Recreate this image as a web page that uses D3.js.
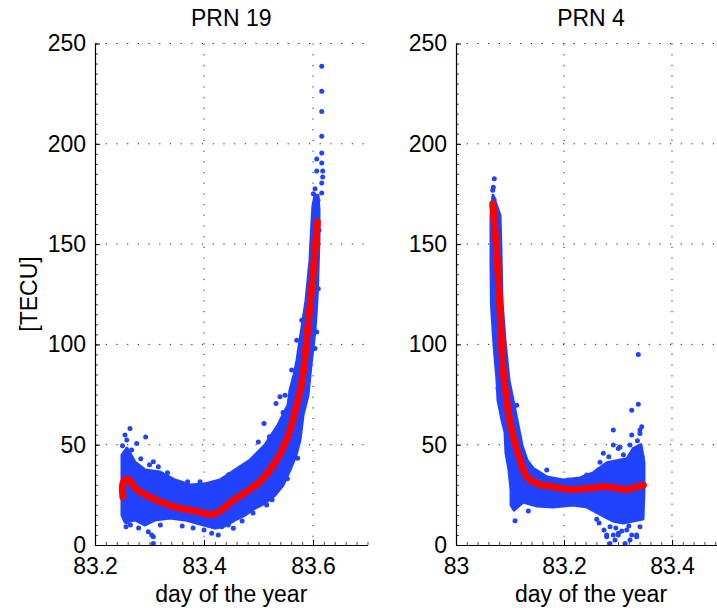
<!DOCTYPE html>
<html>
<head>
  <script src="https://d3js.org/d3.v7.min.js"></script>
  <style>
    html, body {
      margin: 0px;
      padding: 0px;
      background: #fff;
    }
    svg text {
      font-family: "Liberation Sans", Arial, Helvetica, sans-serif;
      font-size: 23px;
      fill: #000;
    }
  </style>
</head>
<body>
  <div id="chart"></div>
  <script>

    // tick values
    const yTicks = [0, 50, 100, 150, 200, 250];
    const prn19XTicks = [83.2, 83.4, 83.6];
    const prn4XTicks = [83, 83.2, 83.4];

    // PRN 19 : smoothed curve (red), [day, TECU]
    const prn19Line = [
      [83.2512, 24], [83.2515, 31], [83.258, 33], [83.262, 32.5], [83.275, 28],
      [83.300, 24], [83.340, 19.5], [83.390, 16.5], [83.415, 15.2], [83.430, 17],
      [83.450, 21.5], [83.500, 31], [83.530, 41], [83.555, 55], [83.570, 70],
      [83.580, 82], [83.590, 107], [83.600, 135], [83.608, 161]
    ];

    // PRN 19 : outline of the dense blue cloud (upper and lower edge)
    const prn19CloudTop = [
      [83.2495, 44.8], [83.2587, 48.3], [83.2734, 41.3], [83.2917, 37.4], [83.3193, 36.4],
      [83.3468, 32.4], [83.3743, 29.9], [83.4018, 30.4], [83.4294, 32.4], [83.4569, 37.4],
      [83.4844, 42.3], [83.5119, 49.8], [83.5358, 59.8], [83.5541, 69.7], [83.5578, 77.2],
      [83.5651, 84.7], [83.5706, 92.1], [83.5761, 102.1], [83.5817, 112], [83.5872, 122],
      [83.5908, 132], [83.5945, 142], [83.5963, 152], [83.5982, 162], [83.6, 169.3],
      [83.6037, 174.3]
    ];
    const prn19CloudBottom = [
      [83.2495, 14.9], [83.255, 11.5], [83.2734, 12.5], [83.2917, 10], [83.3101, 12.5],
      [83.3376, 13.4], [83.3651, 12.5], [83.3927, 10.5], [83.4202, 8.5], [83.4385, 9.5],
      [83.4569, 12.5], [83.4752, 14.9], [83.4936, 18.4], [83.5119, 20.9], [83.5303, 24.9],
      [83.545, 29.9], [83.5578, 37.4], [83.5688, 44.8], [83.5761, 52.3], [83.5817, 64.7],
      [83.5908, 74.7], [83.5963, 89.6], [83.6037, 107.1], [83.6073, 122], [83.6092, 137],
      [83.611, 151.9], [83.611, 166.8], [83.6092, 174.3]
    ];

    // PRN 19 : scattered single samples outside the dense cloud
    const prn19Dots = [
      [83.2642, 58.1], [83.255, 54.8], [83.2582, 52.3], [83.293, 53.9], [83.2765, 50.6],
      [83.2673, 47.3], [83.307, 41.5], [83.3162, 39], [83.255, 14.9], [83.2569, 9.1],
      [83.2582, 11.6], [83.307, 4.1], [83.2978, 6.6], [83.307, 0.8], [83.304, 5],
      [83.3927, 31.5], [83.4202, 30.7], [83.4294, 31.5], [83.4349, 29], [83.4538, 8.3],
      [83.4446, 10], [83.4262, 5], [83.4141, 5.8], [83.4325, 9.1], [83.515, 19.9],
      [83.5334, 29.9], [83.5719, 43.2], [83.5321, 70.6], [83.5486, 74.7], [83.5101, 60.6],
      [83.4996, 51.4], [83.4783, 39.8], [83.4538, 32.4], [83.4996, 22.4], [83.5394, 73.9],
      [83.5609, 87.2], [83.6097, 127.8], [83.6068, 106.2], [83.6037, 98], [83.5701, 102.1],
      [83.5793, 112], [83.6068, 132], [83.616, 238.7], [83.616, 226.2], [83.616, 216.1],
      [83.616, 203.8], [83.616, 195.4], [83.6068, 192.4], [83.616, 190.4], [83.6068, 186.4],
      [83.6178, 186.4], [83.6178, 183.4], [83.616, 180.4], [83.6037, 177.6], [83.616, 175.5],
      [83.6006, 175.1], [83.6092, 171.8], [83.6073, 166.8], [83.611, 156.9],
      [83.2505, 49.5], [83.262, 44], [83.284, 43], [83.30, 40], [83.333, 36],
      [83.28, 8.5], [83.265, 10], [83.32, 10], [83.36, 9.5], [83.38, 8.5],
      [83.40, 7.5], [83.41, 29], [83.37, 31.5], [83.445, 35], [83.47, 12],
      [83.49, 16], [83.52, 54], [83.545, 66], [83.525, 22.5], [83.553, 33]
    ];

    // PRN 4 : smoothed curve (red)
    const prn4Line = [
      [83.068, 170], [83.075, 147], [83.080, 125], [83.0876, 86], [83.094, 72],
      [83.097, 65.6], [83.106, 54], [83.1185, 42.3], [83.131, 34], [83.149, 30.7],
      [83.180, 29], [83.211, 27.7], [83.242, 28.2], [83.273, 29], [83.291, 28.7],
      [83.316, 27.7], [83.335, 29], [83.347, 29.9]
    ];

    // PRN 4 : outline of the dense blue cloud
    const prn4CloudTop = [
      [83.0685, 174.3], [83.0815, 164.3], [83.0833, 146.9], [83.0852, 122], [83.0907, 102.1],
      [83.0981, 82.2], [83.1037, 74.7], [83.113, 62.3], [83.1222, 49.8], [83.1315, 42.3],
      [83.1426, 38.3], [83.1685, 33.9], [83.1981, 32.4], [83.2296, 33.4], [83.2537, 35.9],
      [83.2796, 41], [83.2981, 42], [83.3167, 43], [83.3278, 48], [83.3426, 50],
      [83.3481, 40.8], [83.3481, 27.4]
    ];
    const prn4CloudBottom = [
      [83.0685, 174.3], [83.0648, 164.3], [83.0648, 139.4], [83.0657, 119.5], [83.0704, 99.6],
      [83.0759, 82.2], [83.0778, 72.2], [83.0852, 62.3], [83.0907, 56.3], [83.0926, 45.8],
      [83.0981, 37.4], [83.1019, 27.4], [83.1019, 19.9], [83.1074, 17.4], [83.1241, 21.4],
      [83.15, 19.4], [83.1796, 18.9], [83.2167, 19.9], [83.2426, 18.9], [83.2667, 15.4],
      [83.2796, 13.5], [83.2907, 12], [83.3093, 11], [83.3278, 12], [83.3463, 13],
      [83.3481, 27.4]
    ];

    // PRN 4 : scattered single samples
    const prn4Dots = [
      [83.0709, 182.6], [83.0691, 178.4], [83.068, 176.8], [83.0704, 172.2], [83.3376, 95],
      [83.3254, 67.2], [83.3376, 70.2], [83.2913, 57.3], [83.3439, 58.9], [83.1093, 12.1],
      [83.2852, 0.8], [83.313, 0.8], [83.3006, 5], [83.2791, 5], [83.3346, 5],
      [83.2606, 12.8], [83.1339, 16.9], [83.168, 37.4], [83.1124, 69.7], [83.1061, 19.4],
      [83.2667, 41.3], [83.3037, 48.8], [83.3222, 49.8], [83.3407, 57.3], [83.2944, 2.5],
      [83.3222, 2.5], [83.274, 7.5], [83.0778, 78.2], [83.087, 70.7],
      [83.3407, 55.6], [83.3254, 54.8], [83.2913, 49.8], [83.3006, 48.1], [83.2728, 45.7],
      [83.2635, 37.4], [83.242, 34.9], [83.208, 32.4], [83.3346, 47.3], [83.2852, 9.1],
      [83.3006, 5.8], [83.2913, 5], [83.3254, 5], [83.3346, 4.1], [83.3407, 9.1],
      [83.2791, 4.1], [83.3161, 7.5], [83.31, 45], [83.283, 44], [83.336, 52],
      [83.345, 44], [83.296, 8.5], [83.32, 9.5], [83.307, 7], [83.265, 11]
    ];

    const width = 717;
    const height = 611;
    const plotTop = 43.5, plotBottom = 545;
    const blue = "#2143ff";
    const red = "#ff0000";

    const svg = d3.select("#chart")
      .append("svg")
      .attr("width", width)
      .attr("height", height);

    const yScale = d3.scaleLinear()
      .domain([0, 250])
      .range([plotBottom, plotTop]);

    function drawPanel(opts) {
      const xScale = d3.scaleLinear()
        .domain(opts.domain)
        .range(opts.range);
      const g = svg.append("g");

      // dotted grid
      g.selectAll(".gy")
        .data(yTicks.filter(d => d > 0))
        .join("line")
          .attr("x1", opts.range[0]).attr("x2", opts.range[1])
          .attr("y1", d => yScale(d)).attr("y2", d => yScale(d))
          .attr("stroke", "#222").attr("stroke-width", 1)
          .attr("stroke-dasharray", "1.2,9.5");
      g.selectAll(".gx")
        .data(opts.xTicks.filter(d => d > opts.domain[0]))
        .join("line")
          .attr("x1", d => xScale(d)).attr("x2", d => xScale(d))
          .attr("y1", plotTop).attr("y2", plotBottom)
          .attr("stroke", "#222").attr("stroke-width", 1)
          .attr("stroke-dasharray", "1.2,9.5");

      // dense cloud of samples
      const outline = opts.cloudTop.concat(opts.cloudBottom.slice().reverse());
      const cloud = d3.line()
        .x(d => xScale(d[0]))
        .y(d => yScale(d[1]))
        .curve(d3.curveLinearClosed);
      g.append("path")
        .attr("d", cloud(outline))
        .attr("fill", blue)
        .attr("stroke", blue)
        .attr("stroke-width", 3)
        .attr("stroke-linejoin", "round");

      g.selectAll(".dot")
        .data(opts.dots)
        .join("circle")
          .attr("cx", d => xScale(d[0]))
          .attr("cy", d => yScale(d[1]))
          .attr("r", 2.5)
          .attr("fill", blue);

      // smoothed curve
      const line = d3.line()
        .x(d => xScale(d[0]))
        .y(d => yScale(d[1]))
        .curve(d3.curveCatmullRom.alpha(0.5));
      g.append("path")
        .attr("d", line(opts.line))
        .attr("fill", "none")
        .attr("stroke", red)
        .attr("stroke-width", 7)
        .attr("stroke-linecap", "round")
        .attr("stroke-linejoin", "round");

      // minor ticks
      g.append("g")
        .attr("transform", `translate(${opts.range[0]},0)`)
        .call(d3.axisLeft(yScale).tickValues(d3.range(0, 251, 5))
          .tickSizeInner(-3).tickSizeOuter(0).tickFormat(""))
        .call(a => a.select(".domain").remove())
        .call(a => a.selectAll("line").attr("stroke", "#444"));
      const step = 0.02;
      const xm = d3.range(0, Math.round((opts.domain[1] - opts.domain[0]) / step) + 1)
        .map(i => opts.domain[0] + i * step);
      g.append("g")
        .attr("transform", `translate(0,${plotBottom})`)
        .call(d3.axisBottom(xScale).tickValues(xm)
          .tickSizeInner(-3).tickSizeOuter(0).tickFormat(""))
        .call(a => a.select(".domain").remove())
        .call(a => a.selectAll("line").attr("stroke", "#444"));

      // axes
      const yAxis = g.append("g")
        .attr("transform", `translate(${opts.range[0]},0)`)
        .call(d3.axisLeft(yScale).tickValues(yTicks)
          .tickSizeInner(-5).tickSizeOuter(0).tickPadding(9));
      const xAxis = g.append("g")
        .attr("transform", `translate(0,${plotBottom})`)
        .call(d3.axisBottom(xScale).tickValues(opts.xTicks)
          .tickSizeInner(-5).tickSizeOuter(0).tickPadding(13)
          .tickFormat(d3.format("")));
      [yAxis, xAxis].forEach(a => {
        a.attr("font-size", null).attr("font-family", null);
        a.select(".domain").attr("stroke", "#000").attr("stroke-width", 1.2);
        a.selectAll("text").attr("fill", "#000");
      });

      // title and x label
      const mid = (opts.range[0] + opts.range[1]) / 2;
      g.append("text")
        .attr("x", mid).attr("y", 26)
        .attr("text-anchor", "middle")
        .text(opts.title);
      g.append("text")
        .attr("x", mid).attr("y", 602)
        .attr("text-anchor", "middle")
        .text("day of the year");
    }

    drawPanel({
      title: "PRN 19",
      domain: [83.2, 83.7],
      range: [95, 367.5],
      xTicks: prn19XTicks,
      line: prn19Line,
      cloudTop: prn19CloudTop,
      cloudBottom: prn19CloudBottom,
      dots: prn19Dots
    });

    drawPanel({
      title: "PRN 4",
      domain: [83, 83.5],
      range: [456, 726],
      xTicks: prn4XTicks,
      line: prn4Line,
      cloudTop: prn4CloudTop,
      cloudBottom: prn4CloudBottom,
      dots: prn4Dots
    });

    svg.append("text")
      .attr("x", -294)
      .attr("y", 37)
      .attr("transform", "rotate(-90)")
      .attr("text-anchor", "middle")
      .text("[TECU]");

  </script>
</body>
</html>
